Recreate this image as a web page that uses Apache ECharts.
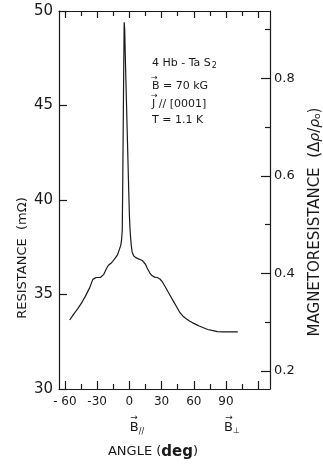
<!DOCTYPE html>
<html>
<head>
<meta charset="utf-8">
<script src="https://cdn.jsdelivr.net/npm/echarts@6/dist/echarts.min.js"></script>
<style>
html,body{margin:0;padding:0;background:#fff;}
#c{width:323px;height:464px;}
</style>
</head>
<body>
<div id="c"></div>
<script>
// ---- data (angle in deg, resistance in mOhm) ----
const angles = [-55.5,-52,-48,-44,-41,-37,-34,-31,-27,-24,-21.5,-19.5,-16.5,-13.5,-11,-9.5,-8,-7.2,-6.6,-6.2,-5.9,-5.6,-5.3,-5.0,-4.8,
  -4.3,-3.5,-2.6,-1.7,-0.8,0,0.6,1.2,1.8,2.6,4,6,8,10,12,13.5,15,17,19,21,23.5,26,28.5,31,33,35,38,41,44,47,50,53,56,59,62,65,69,73,77,82,87,92,97,101];
const resistance = [33.65,33.95,34.25,34.6,34.9,35.35,35.8,35.9,35.9,36.05,36.35,36.55,36.68,36.9,37.1,37.35,37.6,37.9,38.4,40.5,42.5,44.5,46.5,48.3,49.4,
  49.0,47,45,43,41,39.3,38.5,38.0,37.6,37.25,37.05,36.95,36.9,36.85,36.8,36.75,36.6,36.35,36.15,36.0,35.92,35.9,35.82,35.65,35.45,35.25,34.95,34.65,34.35,34.05,33.85,33.72,33.6,33.5,33.42,33.33,33.24,33.15,33.1,33.04,33.02,33.02,33.02,33.02];

const xMajorTicks = [-60,-30,0,30,60,90,120];
const xMinorTicks = [-45,-15,15,45,75,105];
const xTickLabels = [-60,-30,0,30,60,90];
const resTickLabels = [30,35,40,45,50];
const mrTickLabels = [0.2,0.4,0.6,0.8];
const mrMinorTicks = [0.3,0.5,0.7,0.9];
const R0 = 25.8; // zero-field resistance linking the two y scales

const xMin = -65.5, xMax = 131, rMin = 30, rMax = 50;
const mrMin = rMin / R0 - 1, mrMax = rMax / R0 - 1;

const FONT = 'DejaVu Sans';
const INK = '#1a1a1a';
const lineStyle = {color: INK, width: 1.2};

const chart = echarts.init(document.getElementById('c'), null, {renderer: 'canvas'});
const data = angles.map((a, i) => [a, resistance[i]]);

const baseX = {type: 'value', min: xMin, max: xMax, splitLine: {show: false}};
const option = {
  animation: false,
  backgroundColor: '#fff',
  grid: {left: 59, right: 53, top: 11, bottom: 75},
  xAxis: [
    Object.assign({}, baseX, {
      position: 'bottom',
      axisLine: {show: true, onZero: false, lineStyle: lineStyle},
      axisTick: {show: true, inside: true, length: 8, customValues: xMajorTicks, lineStyle: lineStyle},
      axisLabel: {show: true, customValues: xTickLabels, margin: 7, color: INK, fontFamily: FONT, fontSize: 12,
        formatter: v => v === -60 ? '- 60' : String(v)}
    }),
    Object.assign({}, baseX, {
      position: 'bottom',
      axisLine: {show: false, onZero: false},
      axisTick: {show: true, inside: true, length: 5, customValues: xMinorTicks, lineStyle: lineStyle},
      axisLabel: {show: false}
    }),
    Object.assign({}, baseX, {
      position: 'top',
      axisLine: {show: true, onZero: false, lineStyle: lineStyle},
      axisTick: {show: true, inside: true, length: 7, customValues: xMajorTicks, lineStyle: lineStyle},
      axisLabel: {show: false}
    }),
    Object.assign({}, baseX, {
      position: 'top',
      axisLine: {show: false, onZero: false},
      axisTick: {show: true, inside: true, length: 5, customValues: xMinorTicks, lineStyle: lineStyle},
      axisLabel: {show: false}
    })
  ],
  yAxis: [
    {
      type: 'value', position: 'left', min: rMin, max: rMax,
      splitLine: {show: false},
      axisLine: {show: true, onZero: false, lineStyle: lineStyle},
      axisTick: {show: true, inside: true, length: 8, customValues: resTickLabels, lineStyle: lineStyle},
      axisLabel: {show: true, customValues: resTickLabels, margin: 6, color: INK, fontFamily: FONT, fontSize: 15}
    },
    {
      type: 'value', position: 'right', min: mrMin, max: mrMax,
      splitLine: {show: false},
      axisLine: {show: true, onZero: false, lineStyle: lineStyle},
      axisTick: {show: true, inside: true, length: 9, customValues: mrTickLabels, lineStyle: lineStyle},
      axisLabel: {show: true, customValues: mrTickLabels, margin: 4, color: INK, fontFamily: FONT, fontSize: 13,
        formatter: v => v.toFixed(1)}
    },
    {
      type: 'value', position: 'right', min: mrMin, max: mrMax,
      splitLine: {show: false},
      axisLine: {show: false, onZero: false},
      axisTick: {show: true, inside: true, length: 5, customValues: mrMinorTicks, lineStyle: lineStyle},
      axisLabel: {show: false}
    }
  ],
  series: [{
    type: 'line', xAxisIndex: 0, yAxisIndex: 0, data: data,
    showSymbol: false, symbol: 'none', smooth: false,
    lineStyle: {color: INK, width: 1.2}
  }],
  graphic: [
    {type: 'text', x: 23, y: 258, rotation: Math.PI / 2,
      style: {text: 'RESISTANCE  (mΩ)', fontFamily: FONT, fontSize: 13, fill: INK, align: 'center', verticalAlign: 'middle'}},
    {type: 'text', x: 315, y: 222, rotation: Math.PI / 2,
      style: {text: '{a|MAGNETORESISTANCE  (Δ}{i|ρ}{a|/}{i|ρ}{s|o}{a|)}', fill: INK, align: 'center', verticalAlign: 'middle',
        rich: {a: {fontFamily: FONT, fontSize: 15, fill: INK},
               i: {fontFamily: FONT, fontSize: 14, fontStyle: 'italic', fill: INK},
               s: {fontFamily: FONT, fontSize: 9, fill: INK, padding: [6, 0, 0, 0]}}}},
    {type: 'text', x: 153, y: 452,
      style: {text: '{a|ANGLE (}{b|deg}{a|)}', fill: INK, align: 'center', verticalAlign: 'middle',
        rich: {a: {fontFamily: FONT, fontSize: 13, fill: INK}, b: {fontFamily: FONT, fontSize: 15, fontWeight: 'bold', fill: INK}}}},
    {type: 'text', x: 137, y: 428,
      style: {text: '{b|B}{s|//}', fill: INK, align: 'center', verticalAlign: 'middle',
        rich: {b: {fontFamily: FONT, fontSize: 13, fill: INK}, s: {fontFamily: FONT, fontSize: 8, fill: INK, padding: [8, 0, 0, 0]}}}},
    {type: 'text', x: 134, y: 418,
      style: {text: '→', fontFamily: FONT, fontSize: 9, fill: INK, align: 'center', verticalAlign: 'middle'}},
    {type: 'text', x: 232, y: 428,
      style: {text: '{b|B}{s|⊥}', fill: INK, align: 'center', verticalAlign: 'middle',
        rich: {b: {fontFamily: FONT, fontSize: 13, fill: INK}, s: {fontFamily: FONT, fontSize: 8, fill: INK, padding: [6, 0, 0, 0]}}}},
    {type: 'text', x: 229, y: 418,
      style: {text: '→', fontFamily: FONT, fontSize: 9, fill: INK, align: 'center', verticalAlign: 'middle'}},
    {type: 'text', x: 152, y: 63,
      style: {text: '{a|4 Hb - Ta S}{s|2}', fill: INK, align: 'left', verticalAlign: 'middle',
        rich: {a: {fontFamily: FONT, fontSize: 11, fill: INK}, s: {fontFamily: FONT, fontSize: 8, fill: INK, padding: [5, 0, 0, 1]}}}},
    {type: 'text', x: 152, y: 86,
      style: {text: 'B = 70 kG', fontFamily: FONT, fontSize: 11, fill: INK, align: 'left', verticalAlign: 'middle'}},
    {type: 'text', x: 151, y: 78,
      style: {text: '→', fontFamily: FONT, fontSize: 8, fill: INK, align: 'left', verticalAlign: 'middle'}},
    {type: 'text', x: 152, y: 104,
      style: {text: 'J // [0001]', fontFamily: FONT, fontSize: 11, fill: INK, align: 'left', verticalAlign: 'middle'}},
    {type: 'text', x: 151, y: 96,
      style: {text: '→', fontFamily: FONT, fontSize: 8, fill: INK, align: 'left', verticalAlign: 'middle'}},
    {type: 'text', x: 152, y: 120,
      style: {text: 'T = 1.1 K', fontFamily: FONT, fontSize: 11, fill: INK, align: 'left', verticalAlign: 'middle'}}
  ]
};
chart.setOption(option);
</script>
</body>
</html>
